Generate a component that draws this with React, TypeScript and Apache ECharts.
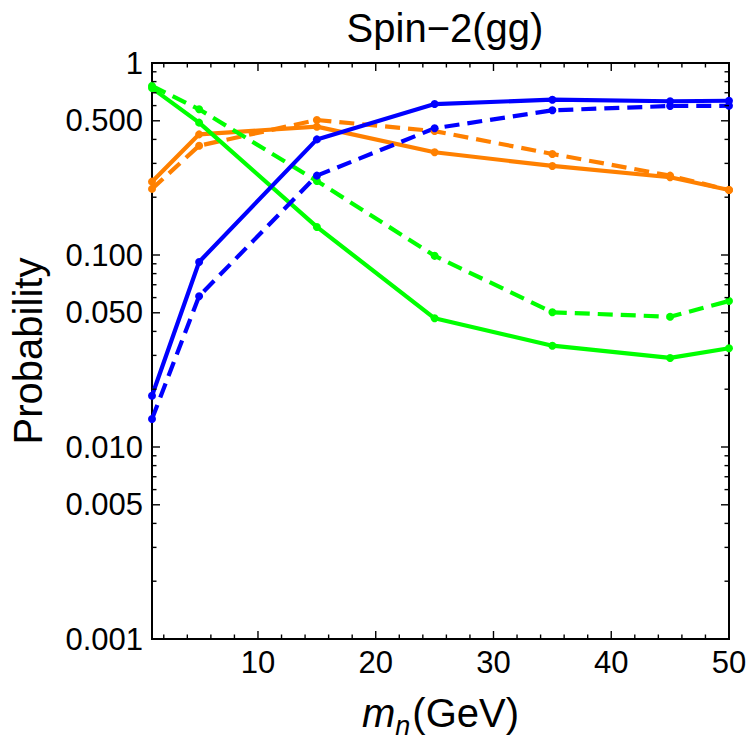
import React, { useEffect, useRef } from "react";
import * as echarts from "echarts";

const xValues = [1, 5, 15, 25, 35, 45, 50];
const blueSolid = [0.0185, 0.092, 0.4, 0.611, 0.644, 0.632, 0.636];
const blueDashed = [0.014, 0.061, 0.259, 0.457, 0.567, 0.597, 0.599];
const orangeSolid = [0.241, 0.425, 0.466, 0.343, 0.291, 0.254, 0.218];
const orangeDashed = [0.221, 0.371, 0.505, 0.442, 0.336, 0.259, 0.218];
const greenSolid = [0.74, 0.489, 0.14, 0.0468, 0.0337, 0.0291, 0.0327];
const greenDashed = [0.76, 0.574, 0.243, 0.099, 0.0503, 0.0477, 0.0576];

const X_MIN = 1;
const X_MAX = 50;
const Y_MIN = 0.001;
const Y_MAX = 1;

const yMajorTicks = [1, 0.5, 0.1, 0.05, 0.01, 0.005, 0.001];
const yMajorLabels = ["1", "0.500", "0.100", "0.050", "0.010", "0.005", "0.001"];
const yMinorTicks = [
  0.9, 0.8, 0.7, 0.6, 0.4, 0.3, 0.2,
  0.09, 0.08, 0.07, 0.06, 0.04, 0.03, 0.02,
  0.009, 0.008, 0.007, 0.006, 0.004, 0.003, 0.002,
];
const xMajorTicks = [10, 20, 30, 40, 50];
const xMajorLabels = ["10", "20", "30", "40", "50"];
const xMinorTicks = [2, 4, 6, 8, 12, 14, 16, 18, 22, 24, 26, 28, 32, 34, 36, 38, 42, 44, 46, 48];

const FONT = "'Liberation Sans', Arial, Helvetica, sans-serif";
const BLUE = "#0000ff";
const ORANGE = "#ff8000";
const GREEN = "#00ff00";

function pairs(ys: number[]) {
  return xValues.map((x, i) => [x, ys[i]]);
}

function lineSeries(ys: number[], color: string, dashed: boolean) {
  return {
    type: "line",
    data: pairs(ys),
    symbol: "circle",
    symbolSize: 8,
    showSymbol: true,
    clip: true,
    itemStyle: { color },
    lineStyle: { color, width: 4.2, type: dashed ? [15, 8] : "solid" },
    z: 3,
  };
}

export default function App() {
  const ref = useRef<HTMLDivElement>(null);
  useEffect(() => {
    if (!ref.current) return;
    const chart = echarts.init(ref.current, undefined, { renderer: "svg" });

    const yTickData = [
      ...yMajorTicks.map((v, i) => ({ value: [X_MIN, v, 1], label: yMajorLabels[i] })),
      ...yMinorTicks.map((v) => ({ value: [X_MIN, v, 0], label: "" })),
    ];
    const xTickData = [
      ...xMajorTicks.map((v, i) => ({ value: [v, Y_MIN, 1], label: xMajorLabels[i] })),
      ...xMinorTicks.map((v) => ({ value: [v, Y_MIN, 0], label: "" })),
    ];

    const option: any = {
      animation: false,
      backgroundColor: "#ffffff",
      title: {
        text: "Spin\u22122(gg)",
        left: 440,
        top: 3,
        textAlign: "center",
        textStyle: { fontFamily: FONT, fontSize: 40, fontWeight: "normal", color: "#000" },
      },
      grid: {
        left: 152,
        right: 21,
        top: 63,
        bottom: 109,
        show: true,
        borderColor: "#000",
        borderWidth: 2,
        backgroundColor: "transparent",
      },
      xAxis: {
        type: "value",
        min: X_MIN,
        max: X_MAX,
        axisLine: { show: false },
        axisTick: { show: false },
        axisLabel: { show: false },
        splitLine: { show: false },
        name: "{i|m}{s|n}{r|(GeV)}",
        nameLocation: "middle",
        nameGap: 48,
        nameTextStyle: {
          fontFamily: FONT,
          fontSize: 40,
          color: "#000",
          rich: {
            i: { fontFamily: FONT, fontSize: 40, fontStyle: "italic", color: "#000", verticalAlign: "middle", lineHeight: 52 },
            s: { fontFamily: FONT, fontSize: 27, fontStyle: "italic", color: "#000", verticalAlign: "bottom", lineHeight: 20, padding: [0, 2, 0, 0] },
            r: { fontFamily: FONT, fontSize: 40, color: "#000", verticalAlign: "middle", lineHeight: 52 },
          },
        },
      },
      yAxis: {
        type: "log",
        logBase: 10,
        min: Y_MIN,
        max: Y_MAX,
        axisLine: { show: false },
        axisTick: { show: false },
        axisLabel: { show: false },
        splitLine: { show: false },
        name: "Probability",
        nameLocation: "middle",
        nameRotate: 90,
        nameGap: 104,
        nameTextStyle: { fontFamily: FONT, fontSize: 40, color: "#000" },
      },
      series: [
        lineSeries(orangeDashed, ORANGE, true),
        lineSeries(orangeSolid, ORANGE, false),
        lineSeries(greenDashed, GREEN, true),
        lineSeries(greenSolid, GREEN, false),
        lineSeries(blueDashed, BLUE, true),
        lineSeries(blueSolid, BLUE, false),
        {
          type: "custom",
          data: yTickData,
          clip: false,
          silent: true,
          z: 5,
          renderItem: (params: any, api: any) => {
            const v = api.value(1);
            const major = api.value(2) === 1;
            const pL = api.coord([X_MIN, v]);
            const pR = api.coord([X_MAX, v]);
            const len = major ? 8 : 4.5;
            const children: any[] = [
              { type: "line", shape: { x1: pL[0], y1: pL[1], x2: pL[0] + len, y2: pL[1] }, style: { stroke: "#000", lineWidth: 1.4 } },
              { type: "line", shape: { x1: pR[0] - len, y1: pR[1], x2: pR[0], y2: pR[1] }, style: { stroke: "#000", lineWidth: 1.4 } },
            ];
            const lab = yTickData[params.dataIndex].label;
            if (lab) {
              children.push({
                type: "text",
                x: pL[0] - 9,
                y: pL[1],
                style: { text: lab, fontFamily: FONT, fontSize: 31, fill: "#000", align: "right", verticalAlign: "middle" },
              });
            }
            return { type: "group", children };
          },
        },
        {
          type: "custom",
          data: xTickData,
          clip: false,
          silent: true,
          z: 5,
          renderItem: (params: any, api: any) => {
            const v = api.value(0);
            const major = api.value(2) === 1;
            const pB = api.coord([v, Y_MIN]);
            const pT = api.coord([v, Y_MAX]);
            const len = major ? 8 : 4.5;
            const children: any[] = [
              { type: "line", shape: { x1: pB[0], y1: pB[1], x2: pB[0], y2: pB[1] - len }, style: { stroke: "#000", lineWidth: 1.4 } },
              { type: "line", shape: { x1: pT[0], y1: pT[1], x2: pT[0], y2: pT[1] + len }, style: { stroke: "#000", lineWidth: 1.4 } },
            ];
            const lab = xTickData[params.dataIndex].label;
            if (lab) {
              children.push({
                type: "text",
                x: pB[0],
                y: pB[1] + 8,
                style: { text: lab, fontFamily: FONT, fontSize: 31, fill: "#000", align: "center", verticalAlign: "top" },
              });
            }
            return { type: "group", children };
          },
        },
      ],
    };
    chart.setOption(option);
    return () => chart.dispose();
  }, []);
  return <div ref={ref} style={{ position: "fixed", left: 0, top: 0, width: 750, height: 748 }} />;
}
